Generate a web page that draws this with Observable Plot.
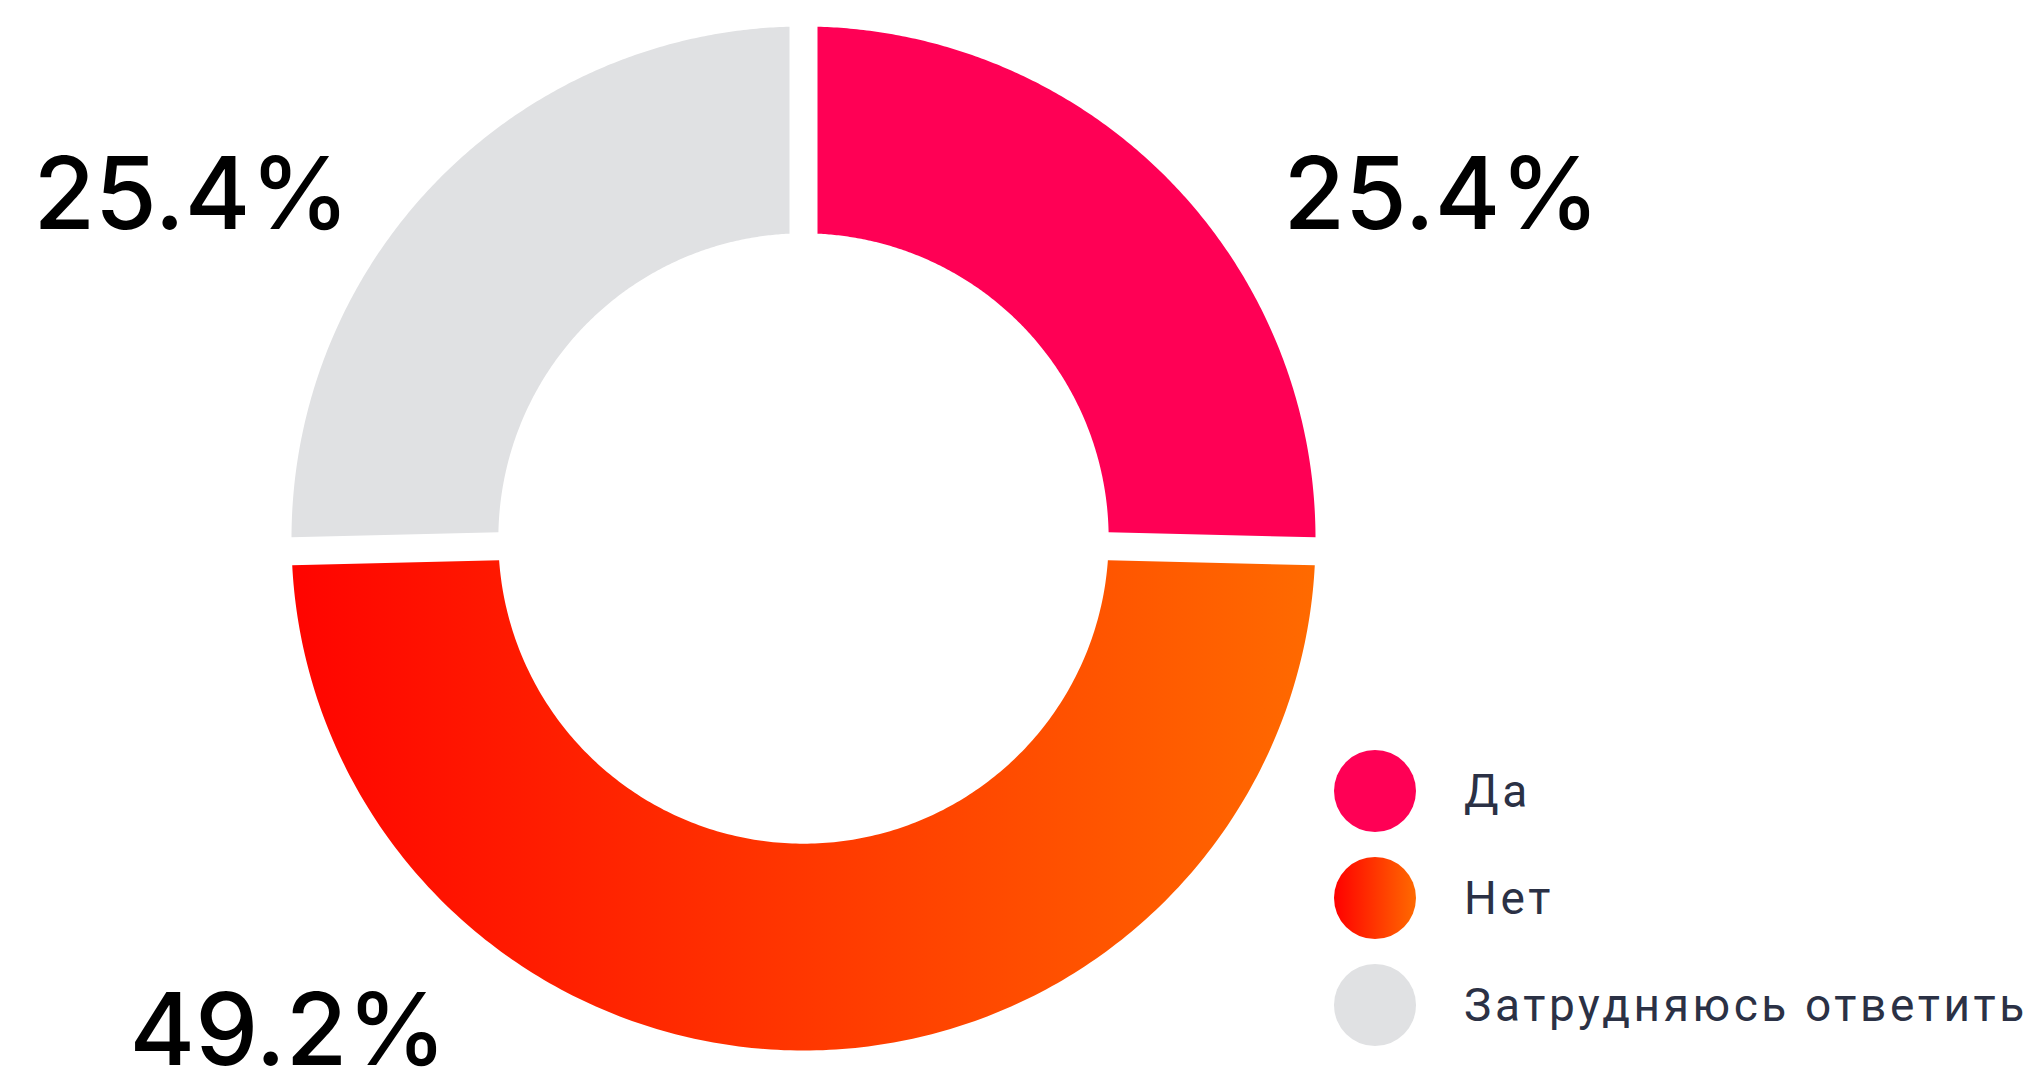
<!DOCTYPE html>
<html>
<head>
<meta charset="utf-8">
<script src="https://cdn.jsdelivr.net/npm/d3@7"></script>
<script src="https://cdn.jsdelivr.net/npm/@observablehq/plot@0.6"></script>
<style>
  html, body { margin: 0; padding: 0; background: #fff; }
  #wrap { position: relative; width: 2039px; height: 1072px; overflow: hidden; }
  #chart svg { display: block; }
  #legend { position: absolute; left: 1334px; top: 750px; font-family: Roboto, "Noto Sans", sans-serif; color: #2b3145; }
  .row { display: flex; align-items: center; height: 82px; margin-bottom: 25px; }
  .sw { width: 82px; height: 82px; border-radius: 50%; flex: none; }
  .lab { margin-left: 48px; font-size: 46px; letter-spacing: 3.6px; white-space: nowrap; }
</style>
</head>
<body>
<div id="wrap">
  <div id="chart"></div>
  <div id="legend"></div>
</div>
<script>
// ---- data ----
const categories = ["Да", "Нет", "Затрудняюсь ответить"];
const values = [25.4, 49.2, 25.4];
const colors = ["#ff0055", "url(#netGrad)", "#e0e1e3"];
const legendSwatches = ["#ff0055", "linear-gradient(90deg, #ff0000, #ff6a00)", "#e0e1e3"];

// ---- layout (pixels) ----
const W = 2039, H = 1072;
const CX = 803, CY = 538, R = 512;
const innerRatio = 0.596;
const gapPx = 28;

const total = d3.sum(values);
const h = (gapPx / 2) / R;
let acc = 0;
const pts = [];
categories.forEach((cat, i) => {
  const a0 = acc / total * 2 * Math.PI;
  acc += values[i];
  const a1 = acc / total * 2 * Math.PI;
  const os = a0 + Math.asin(h), oe = a1 - Math.asin(h);
  const is = a0 + Math.asin(h / innerRatio), ie = a1 - Math.asin(h / innerRatio);
  const N = 240;
  for (let k = 0; k <= N; k++) {
    const a = os + (oe - os) * k / N;
    pts.push({cat, x: Math.sin(a), y: Math.cos(a)});
  }
  for (let k = 0; k <= N; k++) {
    const a = ie + (is - ie) * k / N;
    pts.push({cat, x: innerRatio * Math.sin(a), y: innerRatio * Math.cos(a)});
  }
});

// label layout: left edge / baseline in pixels, converted to plot units
const FS = 100;
const labelLayout = [
  {left: 1283, base: 228},
  {left: 129, base: 1064},
  {left: 33, base: 228}
];
const px2x = px => (px - CX) / R;
const px2y = py => (CY - py) / R;
const labels = categories.map((cat, i) => ({
  cat,
  text: d3.format(".1f")(values[i]) + "%",
  x: px2x(labelLayout[i].left),
  y: px2y(labelLayout[i].base - 0.32 * FS)
}));

const svg = Plot.plot({
  width: W,
  height: H,
  margin: 0,
  x: {domain: [-1, 1], range: [CX - R, CX + R], axis: null},
  y: {domain: [-1, 1], range: [CY + R, CY - R], axis: null},
  style: {background: "white", overflow: "visible"},
  marks: [
    ...categories.map((cat, i) => Plot.line(pts.filter(p => p.cat === cat), {
      x: "x", y: "y", fill: colors[i], stroke: "none", curve: "linear-closed"
    })),
    Plot.text(labels, {
      x: "x", y: "y", text: "text", textAnchor: "start", lineAnchor: "middle",
      fontSize: FS, fontWeight: 500, fontFamily: "Inter, 'Noto Sans', sans-serif", fill: "#000"
    })
  ]
});

const defs = d3.select(svg).insert("defs", ":first-child");
const g = defs.append("linearGradient").attr("id", "netGrad")
  .attr("x1", "0").attr("y1", "0").attr("x2", "1").attr("y2", "0");
g.append("stop").attr("offset", "0%").attr("stop-color", "#ff0400");
g.append("stop").attr("offset", "100%").attr("stop-color", "#ff6a00");

document.getElementById("chart").appendChild(svg);

const legend = d3.select("#legend");
categories.forEach((cat, i) => {
  const row = legend.append("div").attr("class", "row");
  row.append("div").attr("class", "sw").style("background", legendSwatches[i]);
  row.append("div").attr("class", "lab").text(cat);
});
</script>
</body>
</html>
